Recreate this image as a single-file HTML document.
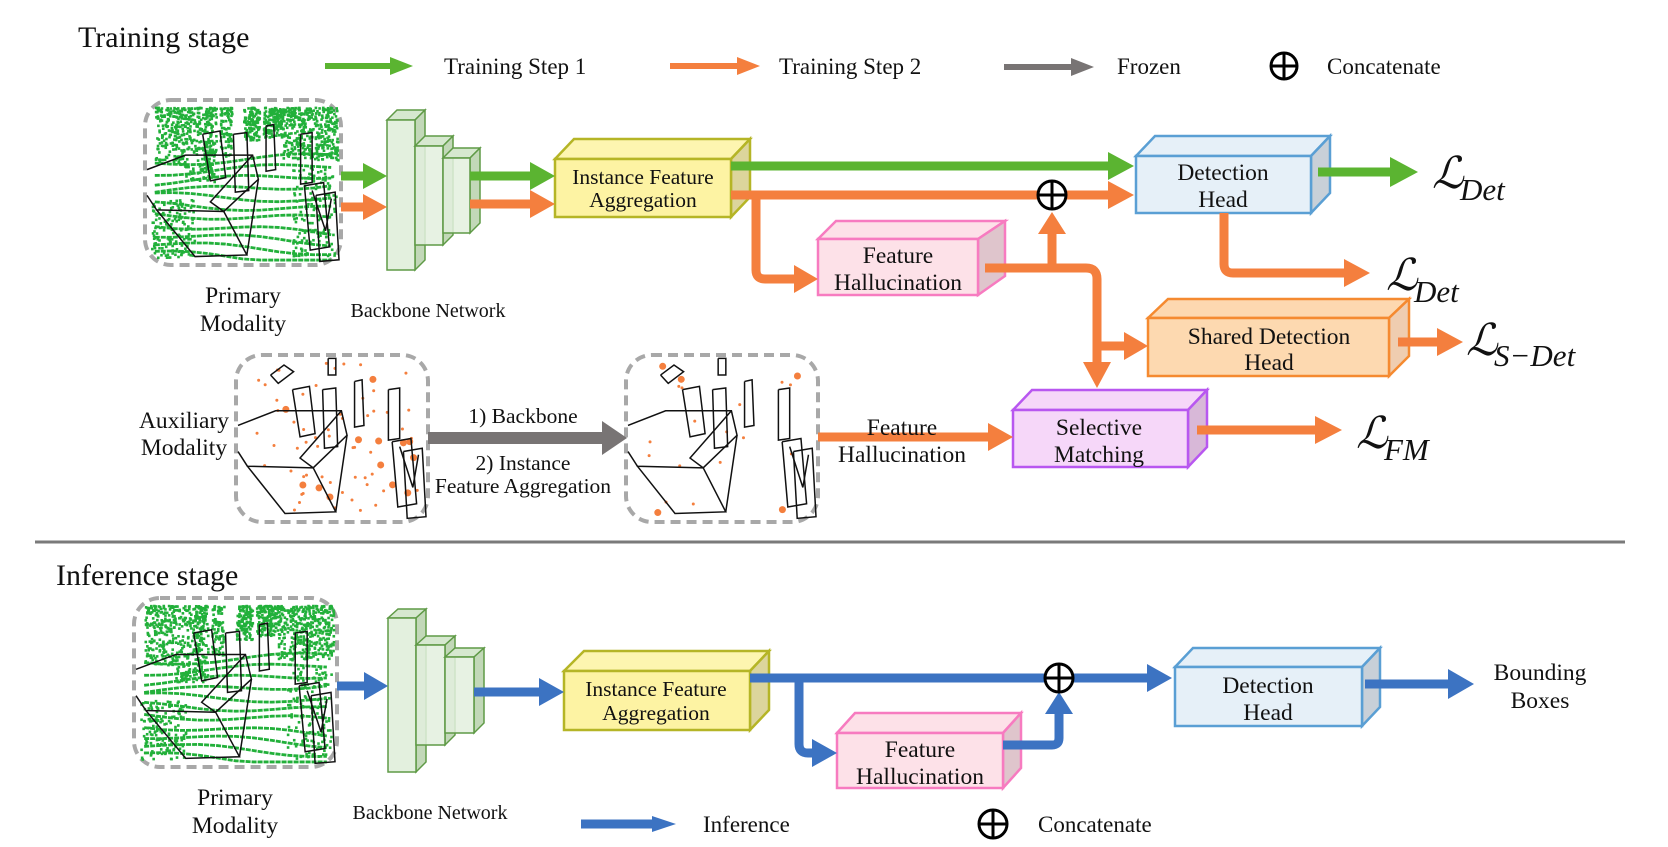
<!DOCTYPE html>
<html><head><meta charset="utf-8">
<style>
html,body{margin:0;padding:0;background:#fff;}
svg{display:block;}
text{font-family:"Liberation Serif","DejaVu Serif",serif;fill:#111;}
.t{font-size:23.5px;text-anchor:middle;}
.s{font-size:21.5px;text-anchor:middle;}
.l{font-size:23px;}
.h{font-size:30px;}
.L{font-family:"DejaVu Serif","Liberation Serif",serif;font-size:44px;font-style:italic;}
.sub{font-family:"Liberation Serif",serif;font-size:31px;font-style:italic;}
</style></head>
<body>
<svg id="svg" width="1668" height="847" viewBox="0 0 1668 847" xmlns="http://www.w3.org/2000/svg">
<g id="clouds"></g>

<text x="78" y="47" class="h">Training stage</text>
<text x="56" y="585" class="h">Inference stage</text>

<line x1="325" y1="66" x2="393" y2="66" stroke="#5bb431" stroke-width="6"/>
<polygon points="390,57 413,66 390,75" fill="#5bb431"/>
<text x="444" y="74" class="l">Training Step 1</text>
<line x1="670" y1="66" x2="740" y2="66" stroke="#f47f3e" stroke-width="6"/>
<polygon points="737,57 760,66 737,75" fill="#f47f3e"/>
<text x="779" y="74" class="l">Training Step 2</text>
<line x1="1004" y1="67" x2="1074" y2="67" stroke="#787474" stroke-width="6"/>
<polygon points="1071,58 1094,67 1071,76" fill="#787474"/>
<text x="1117" y="74" class="l">Frozen</text>
<g stroke="#000" stroke-width="3" fill="none"><circle cx="1284" cy="66" r="13"/><line x1="1271" y1="66" x2="1297" y2="66"/><line x1="1284" y1="53" x2="1284" y2="79"/></g>
<text x="1327" y="74" class="l">Concatenate</text>

<line x1="35" y1="542" x2="1625" y2="542" stroke="#7a7a7a" stroke-width="3"/>

<g stroke="#5f9a46" stroke-width="1.5">
<polygon points="387,120 397,110 425,110 415,120" fill="#d6e8cf"/><polygon points="415,120 425,110 425,260 415,270" fill="#c2d8b8"/><rect x="387" y="120" width="28" height="150" fill="#e3f0de"/>
<polygon points="415,146 425,136 453,136 443,146" fill="#d6e8cf"/><polygon points="443,146 453,136 453,235 443,245" fill="#c2d8b8"/><rect x="415" y="146" width="28" height="99" fill="#e3f0de" fill-opacity="0.85"/>
<polygon points="443,158 453,148 480,148 470,158" fill="#d6e8cf"/><polygon points="470,158 480,148 480,223 470,233" fill="#c2d8b8"/><rect x="443" y="158" width="27" height="75" fill="#e3f0de" fill-opacity="0.85"/>
</g>
<g stroke="#5f9a46" stroke-width="1.5">
<polygon points="388,618 398,609 426,609 416,618" fill="#d6e8cf"/><polygon points="416,618 426,609 426,762 416,772" fill="#c2d8b8"/><rect x="388" y="618" width="28" height="154" fill="#e3f0de"/>
<polygon points="416,645 426,636 455,636 445,645" fill="#d6e8cf"/><polygon points="445,645 455,636 455,735 445,745" fill="#c2d8b8"/><rect x="416" y="645" width="29" height="100" fill="#e3f0de" fill-opacity="0.85"/>
<polygon points="445,657 455,648 484,648 474,657" fill="#d6e8cf"/><polygon points="474,657 484,648 484,723 474,733" fill="#c2d8b8"/><rect x="445" y="657" width="29" height="76" fill="#e3f0de" fill-opacity="0.85"/>
</g>

<g stroke-width="2.5">
<polygon points="555,159 574,139 750,139 731,159" fill="#fdf5b0" stroke="#b5b526"/>
<polygon points="731,159 750,139 750,197 731,217" fill="#dcd59c" stroke="#b5b526"/>
<rect x="555" y="159" width="176" height="58" fill="#fdf3a3" stroke="#b5b526"/>
<polygon points="1136,156 1155,136 1330,136 1311,156" fill="#e6f0f8" stroke="#5a9fd4"/>
<polygon points="1311,156 1330,136 1330,193 1311,213" fill="#c8d0d8" stroke="#5a9fd4"/>
<rect x="1136" y="156" width="175" height="57" fill="#e6f0f8" stroke="#5a9fd4"/>
<polygon points="818,239 836,221 1005,221 978,239" fill="#fde1e8" stroke="#f77bc0"/>
<polygon points="978,239 1005,221 1005,276 978,295" fill="#dfc5cc" stroke="#f77bc0"/>
<rect x="818" y="239" width="160" height="56" fill="#fde1e8" stroke="#f77bc0"/>
<polygon points="1148,318 1168,299 1409,299 1389,318" fill="#fdd8b0" stroke="#f58a30"/>
<polygon points="1389,318 1409,299 1409,356 1389,376" fill="#efcdb0" stroke="#f58a30"/>
<rect x="1148" y="318" width="241" height="58" fill="#fdd9b0" stroke="#f58a30"/>
<polygon points="1013,410 1032,390 1207,390 1188,410" fill="#f6d7f9" stroke="#b857f0"/>
<polygon points="1188,410 1207,390 1207,447 1188,467" fill="#d8b8d8" stroke="#b857f0"/>
<rect x="1013" y="410" width="175" height="57" fill="#f6d7f9" stroke="#b857f0"/>
</g>
<g stroke-width="2.5">
<polygon points="564,671 584,651 769,651 750,671" fill="#fdf5b0" stroke="#b5b526"/>
<polygon points="750,671 769,651 769,710 750,730" fill="#dcd59c" stroke="#b5b526"/>
<rect x="564" y="671" width="186" height="59" fill="#fdf3a3" stroke="#b5b526"/>
<polygon points="837,733 855,713 1021,713 1003,733" fill="#fde1e8" stroke="#f77bc0"/>
<polygon points="1003,733 1021,713 1021,768 1003,788" fill="#dfc5cc" stroke="#f77bc0"/>
<rect x="837" y="733" width="166" height="55" fill="#fde1e8" stroke="#f77bc0"/>
<polygon points="1175,667 1193,648 1380,648 1362,667" fill="#e6f0f8" stroke="#5a9fd4"/>
<polygon points="1362,667 1380,648 1380,707 1362,726" fill="#c8d0d8" stroke="#5a9fd4"/>
<rect x="1175" y="667" width="187" height="59" fill="#e6f0f8" stroke="#5a9fd4"/>
</g>

<g fill="none" stroke-width="9" stroke-linejoin="round">
<line x1="341" y1="176" x2="368" y2="176" stroke="#5bb431"/>
<line x1="341" y1="207" x2="368" y2="207" stroke="#f47f3e"/>
<line x1="470" y1="176" x2="535" y2="176" stroke="#5bb431"/>
<line x1="470" y1="204" x2="535" y2="204" stroke="#f47f3e"/>
<line x1="731" y1="166" x2="1112" y2="166" stroke="#5bb431"/>
<line x1="731" y1="195" x2="1112" y2="195" stroke="#f47f3e"/>
<path d="M756,195 V270 Q756,279 765,279 H798" stroke="#f47f3e"/>
<path d="M985,268 H1086 Q1097,268 1097,279 V366" stroke="#f47f3e"/>
<line x1="1052" y1="268" x2="1052" y2="230" stroke="#f47f3e"/>
<line x1="1097" y1="346" x2="1128" y2="346" stroke="#f47f3e"/>
<line x1="1318" y1="172" x2="1395" y2="172" stroke="#5bb431"/>
<path d="M1224,213 V264 Q1224,273 1233,273 H1348" stroke="#f47f3e"/>
<line x1="1398" y1="342" x2="1442" y2="342" stroke="#f47f3e"/>
<line x1="1197" y1="430" x2="1320" y2="430" stroke="#f47f3e"/>
<line x1="818" y1="437" x2="992" y2="437" stroke="#f47f3e"/>
<line x1="428" y1="438" x2="606" y2="438" stroke="#787474" stroke-width="12"/>
</g>
<g>
<polygon points="363,163 387,176 363,189" fill="#5bb431"/>
<polygon points="363,194 387,207 363,220" fill="#f47f3e"/>
<polygon points="530,162 555,176 530,190" fill="#5bb431"/>
<polygon points="530,190 555,204 530,218" fill="#f47f3e"/>
<polygon points="1108,152 1134,166 1108,180" fill="#5bb431"/>
<polygon points="1108,181 1134,195 1108,209" fill="#f47f3e"/>
<polygon points="794,265 818,279 794,293" fill="#f47f3e"/>
<polygon points="1038,234 1052,212 1066,234" fill="#f47f3e"/>
<polygon points="1083,362 1097,388 1111,362" fill="#f47f3e"/>
<polygon points="1124,332 1148,346 1124,360" fill="#f47f3e"/>
<polygon points="1390,157 1418,172 1390,187" fill="#5bb431"/>
<polygon points="1344,259 1370,273 1344,287" fill="#f47f3e"/>
<polygon points="1437,328 1463,342 1437,356" fill="#f47f3e"/>
<polygon points="1315,416 1342,430 1315,444" fill="#f47f3e"/>
<polygon points="988,423 1013,437 988,451" fill="#f47f3e"/>
<polygon points="602,421 627,438 602,455" fill="#787474"/>
</g>
<g stroke="#000" stroke-width="3" fill="#fff"><circle cx="1052" cy="195" r="14"/><line x1="1038" y1="195" x2="1066" y2="195"/><line x1="1052" y1="181" x2="1052" y2="209"/></g>

<g fill="none" stroke="#3c73c2" stroke-width="9" stroke-linejoin="round">
<line x1="337" y1="686" x2="368" y2="686"/>
<line x1="474" y1="692" x2="544" y2="692"/>
<line x1="750" y1="678" x2="1150" y2="678"/>
<path d="M799,678 V744 Q799,753 808,753 H815"/>
<path d="M1003,745 H1052 Q1059,745 1059,738 V710"/>
<line x1="1365" y1="684" x2="1450" y2="684"/>
<line x1="581" y1="824" x2="655" y2="824"/>
</g>
<g fill="#3c73c2">
<polygon points="364,672 388,686 364,700"/>
<polygon points="539,678 564,692 539,706"/>
<polygon points="1147,664 1172,678 1147,692"/>
<polygon points="812,739 837,753 812,767"/>
<polygon points="1045,714 1059,692 1073,714"/>
<polygon points="1448,669 1474,684 1448,699"/>
<polygon points="652,816 676,824 652,832"/>
</g>
<g stroke="#000" stroke-width="3" fill="#fff"><circle cx="1059" cy="678" r="14"/><line x1="1045" y1="678" x2="1073" y2="678"/><line x1="1059" y1="664" x2="1059" y2="692"/></g>
<g stroke="#000" stroke-width="3" fill="none"><circle cx="993" cy="824" r="14"/><line x1="979" y1="824" x2="1007" y2="824"/><line x1="993" y1="810" x2="993" y2="838"/></g>
<text x="703" y="832" class="l">Inference</text>
<text x="1038" y="832" class="l">Concatenate</text>

<text x="643" y="184" class="s">Instance Feature</text>
<text x="643" y="207" class="s">Aggregation</text>
<text x="1223" y="180" class="t">Detection</text>
<text x="1223" y="207" class="t">Head</text>
<text x="898" y="263" class="t">Feature</text>
<text x="898" y="290" class="t">Hallucination</text>
<text x="1269" y="344" class="t">Shared Detection</text>
<text x="1269" y="370" class="t">Head</text>
<text x="1099" y="435" class="t">Selective</text>
<text x="1099" y="462" class="t">Matching</text>
<text x="902" y="435" class="t">Feature</text>
<text x="902" y="462" class="t">Hallucination</text>
<text x="184" y="428" class="t">Auxiliary</text>
<text x="184" y="455" class="t">Modality</text>
<text x="523" y="423" class="s">1) Backbone</text>
<text x="523" y="470" class="s">2) Instance</text>
<text x="523" y="493" class="s">Feature Aggregation</text>
<text x="243" y="303" class="t">Primary</text>
<text x="243" y="331" class="t">Modality</text>
<text x="428" y="317" class="s" style="font-size:20px">Backbone Network</text>
<text x="656" y="696" class="s">Instance Feature</text>
<text x="656" y="720" class="s">Aggregation</text>
<text x="920" y="757" class="t">Feature</text>
<text x="920" y="784" class="t">Hallucination</text>
<text x="1268" y="693" class="t">Detection</text>
<text x="1268" y="720" class="t">Head</text>
<text x="1540" y="680" class="t">Bounding</text>
<text x="1540" y="708" class="t">Boxes</text>
<text x="235" y="805" class="t">Primary</text>
<text x="235" y="833" class="t">Modality</text>
<text x="430" y="819" class="s" style="font-size:20px">Backbone Network</text>

<text x="1432" y="188" class="L">ℒ</text><text x="1460" y="200" class="sub">Det</text>
<text x="1386" y="290" class="L">ℒ</text><text x="1414" y="302" class="sub">Det</text>
<text x="1466" y="355" class="L">ℒ</text><text x="1494" y="366" class="sub">S−Det</text>
<text x="1356" y="448" class="L">ℒ</text><text x="1384" y="460" class="sub">FM</text>
</svg>
<script>
(function(){
var NS="http://www.w3.org/2000/svg",g=document.getElementById('clouds');
var seed=7;function r(){seed=(seed*16807)%2147483647;return seed/2147483647;}
function el(n,a){var e=document.createElementNS(NS,n);for(var k in a)e.setAttribute(k,a[k]);g.appendChild(e);return e;}
function frame(x,y,w,h){el('rect',{x:x,y:y,width:w,height:h,rx:26,ry:26,fill:'#fff',stroke:'#a8a8a8','stroke-width':4,'stroke-dasharray':'10 6'});}
function wire(x,y,w,h,pts){var s='';for(var i=0;i<pts.length;i++){s+=(i?' ':'')+(x+pts[i][0]*w)+','+(y+pts[i][1]*h);}el('polyline',{points:s,fill:'none',stroke:'#111','stroke-width':1.5});}
function boxes(x,y,w,h){
 wire(x,y,w,h,[[0,0.42],[0.2,0.33],[0.55,0.33],[0.58,0.48],[0.4,0.68],[0.05,0.67],[0,0.58]]);
 wire(x,y,w,h,[[0.4,0.68],[0.52,0.95],[0.25,0.96],[0.05,0.67]]);
 wire(x,y,w,h,[[0.55,0.33],[0.33,0.62],[0.4,0.68]]);
 wire(x,y,w,h,[[0.52,0.95],[0.58,0.48]]);
 wire(x,y,w,h,[[0.29,0.2],[0.38,0.18],[0.41,0.47],[0.33,0.49],[0.29,0.2]]);
 wire(x,y,w,h,[[0.45,0.2],[0.52,0.19],[0.53,0.55],[0.46,0.56],[0.45,0.2]]);
 wire(x,y,w,h,[[0.62,0.15],[0.66,0.14],[0.67,0.42],[0.62,0.43],[0.62,0.15]]);
 wire(x,y,w,h,[[0.8,0.2],[0.86,0.19],[0.86,0.5],[0.8,0.51],[0.8,0.2]]);
 wire(x,y,w,h,[[0.82,0.52],[0.92,0.5],[0.95,0.9],[0.85,0.92],[0.82,0.52]]);
 wire(x,y,w,h,[[0.88,0.58],[0.98,0.56],[1.0,0.98],[0.9,0.99],[0.88,0.58]]);
 wire(x,y,w,h,[[0.86,0.55],[0.93,0.8],[0.96,0.6]]);
}
function primary(x,y,w,h){
 frame(x,y,w,h);
 for(var i=0;i<11;i++){var yy=0.36+i*0.058;var pts=[];for(var t=0;t<=10;t++){var xf=0.05+t*0.09;var yf=yy+0.02*Math.sin(t*0.6+i)-0.05*(xf-0.5)*(i<4?1:-0.6)+(i>6?0.03*xf:0);pts.push((x+xf*w)+','+(y+Math.min(0.97,yf)*h));}
  el('polyline',{points:pts.join(' '),fill:'none',stroke:'#22b03a','stroke-width':2.8,'stroke-dasharray':'5 1'});}
 var cols=[[0.05,0.2,0.35],[0.2,0.36,0.45],[0.38,0.44,0.3],[0.5,0.58,0.2],[0.7,0.98,0.32],[0.3,0.34,0.42],[0.6,0.7,0.18]];
 for(var c=0;c<cols.length;c++){var a=cols[c];var n=Math.round((a[1]-a[0])*1400);
  for(var k=0;k<n;k++){var xf=a[0]+r()*(a[1]-a[0]);var yf=0.04+Math.pow(r(),1.3)*a[2];
   el('rect',{x:x+xf*w,y:y+yf*h,width:2.6,height:2.6,fill:'#22b03a'});}}
 for(var k=0;k<260;k++){var xf,yf;if(r()<0.5){xf=0.03+r()*0.22;yf=0.6+r()*0.35;}else{xf=0.75+r()*0.22;yf=0.4+r()*0.55;}
  el('rect',{x:x+xf*w,y:y+yf*h,width:2.6,height:2.6,fill:'#22b03a'});}
 boxes(x+2,y+2,w-4,h-4);
}
function aux(x,y,w,h,n){
 frame(x,y,w,h);
 for(var k=0;k<n;k++){var xf=0.1+r()*0.85,yf=0.05+r()*0.9;var rr=r()<0.2?3.5:1.5;
  el('circle',{cx:x+xf*w,cy:y+yf*h,r:rr,fill:'#f47f3e'});}
 wire(x,y,w,h,[[0.18,0.12],[0.25,0.06],[0.3,0.1],[0.22,0.17],[0.18,0.12]]);
 wire(x,y,w,h,[[0.48,0.02],[0.52,0.02],[0.52,0.12],[0.48,0.12],[0.48,0.02]]);
 boxes(x+2,y+2,w-4,h-4);
}
primary(145,100,196,165);
primary(134,598,203,169);
aux(236,355,192,167,70);
aux(626,355,192,167,20);
})();
</script>
</body></html>
